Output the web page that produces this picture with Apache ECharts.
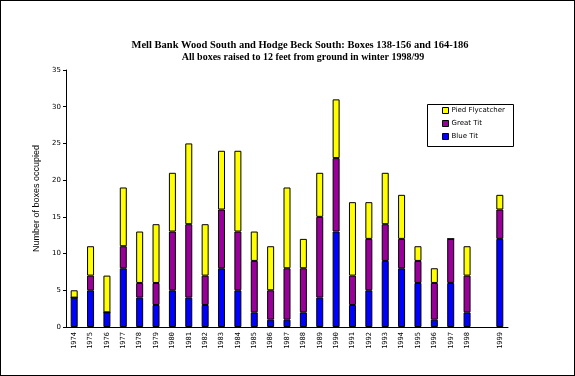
<!DOCTYPE html>
<html>
<head>
<meta charset="utf-8">
<script src="https://cdn.jsdelivr.net/npm/echarts@6/dist/echarts.min.js"></script>
<style>
  html, body { margin: 0; padding: 0; background: #fff; }
  #chart { width: 573px; height: 374px; border: 1px solid #000; }
</style>
</head>
<body>
<div id="chart"></div>
<script>
// years, with an empty slot before 1999
const years = ['1974', '1975', '1976', '1977', '1978', '1979', '1980', '1981', '1982', '1983',
  '1984', '1985', '1986', '1987', '1988', '1989', '1990', '1991', '1992', '1993',
  '1994', '1995', '1996', '1997', '1998', '', '1999'];
const blueTit = [4, 5, 2, 8, 4, 3, 5, 4, 3, 8, 5, 2, 1, 1, 2, 4, 13, 3, 5, 9, 8, 6, 1, 6, 2, '-', 12];
const greatTit = [0, 2, 0, 3, 2, 3, 8, 10, 4, 8, 8, 7, 4, 7, 6, 11, 10, 4, 7, 5, 4, 3, 5, 6, 5, '-', 4];
const piedFlycatcher = [1, 4, 5, 8, 7, 8, 8, 11, 7, 8, 11, 4, 6, 11, 4, 6, 8, 10, 5, 7, 6, 2, 2, 0, 4, '-', 2];

const chart = echarts.init(document.getElementById('chart'));

const barStyle = (color) => ({ color: color, borderColor: '#000', borderWidth: 1 });

const option = {
  animation: false,
  graphic: [
    {
      type: 'text', x: 299, y: 39,
      style: {
        text: 'Mell Bank Wood South and Hodge Beck South: Boxes 138-156 and 164-186',
        font: 'bold 10.5px "Liberation Serif"', fill: '#000', align: 'center'
      }
    },
    {
      type: 'text', x: 302, y: 51,
      style: {
        text: 'All boxes raised to 12 feet from ground in winter 1998/99',
        font: 'bold 10px "Liberation Serif"', fill: '#000', align: 'center'
      }
    },
    {
      type: 'rect', left: 424, top: 101,
      shape: { width: 86, height: 42 },
      style: { fill: 'none', stroke: '#000', lineWidth: 1 }
    }
  ],
  legend: {
    left: 441, top: 106,
    orient: 'vertical',
    icon: 'rect',
    itemWidth: 6, itemHeight: 6, itemGap: 6,
    padding: 0,
    itemStyle: { borderColor: '#000', borderWidth: 1 },
    data: ['Pied Flycatcher', 'Great Tit', 'Blue Tit'],
    textStyle: { fontSize: 7, color: '#000', fontFamily: 'DejaVu Sans', padding: [0, 0, 0, -2] }
  },
  grid: { left: 65, right: 66, top: 69, bottom: 48 },
  xAxis: {
    type: 'category',
    data: years,
    axisLine: { lineStyle: { color: '#000', width: 1 } },
    axisTick: { lineStyle: { color: '#000' }, length: 3 },
    axisLabel: { rotate: 90, fontSize: 7, color: '#000', fontFamily: 'DejaVu Sans Mono', margin: 5, interval: 0 }
  },
  yAxis: {
    type: 'value',
    min: 0, max: 35, interval: 5,
    name: 'Number of boxes occupied',
    nameLocation: 'middle',
    nameGap: 23,
    nameTextStyle: { fontSize: 9, color: '#000', fontFamily: 'Liberation Sans' },
    axisLine: { show: true, lineStyle: { color: '#000', width: 1 } },
    axisTick: { show: true, length: 3, lineStyle: { color: '#000' } },
    axisLabel: { fontSize: 7, color: '#000', fontFamily: 'DejaVu Sans', margin: 5 },
    splitLine: { show: false }
  },
  series: [
    { name: 'Blue Tit', type: 'bar', stack: 'boxes', data: blueTit, barWidth: 7, itemStyle: barStyle('#0000ff') },
    { name: 'Great Tit', type: 'bar', stack: 'boxes', data: greatTit, barWidth: 7, itemStyle: barStyle('#990099') },
    { name: 'Pied Flycatcher', type: 'bar', stack: 'boxes', data: piedFlycatcher, barWidth: 7, itemStyle: barStyle('#ffff00') }
  ]
};

chart.setOption(option);
window.addEventListener('resize', () => chart.resize());
</script>
</body>
</html>
